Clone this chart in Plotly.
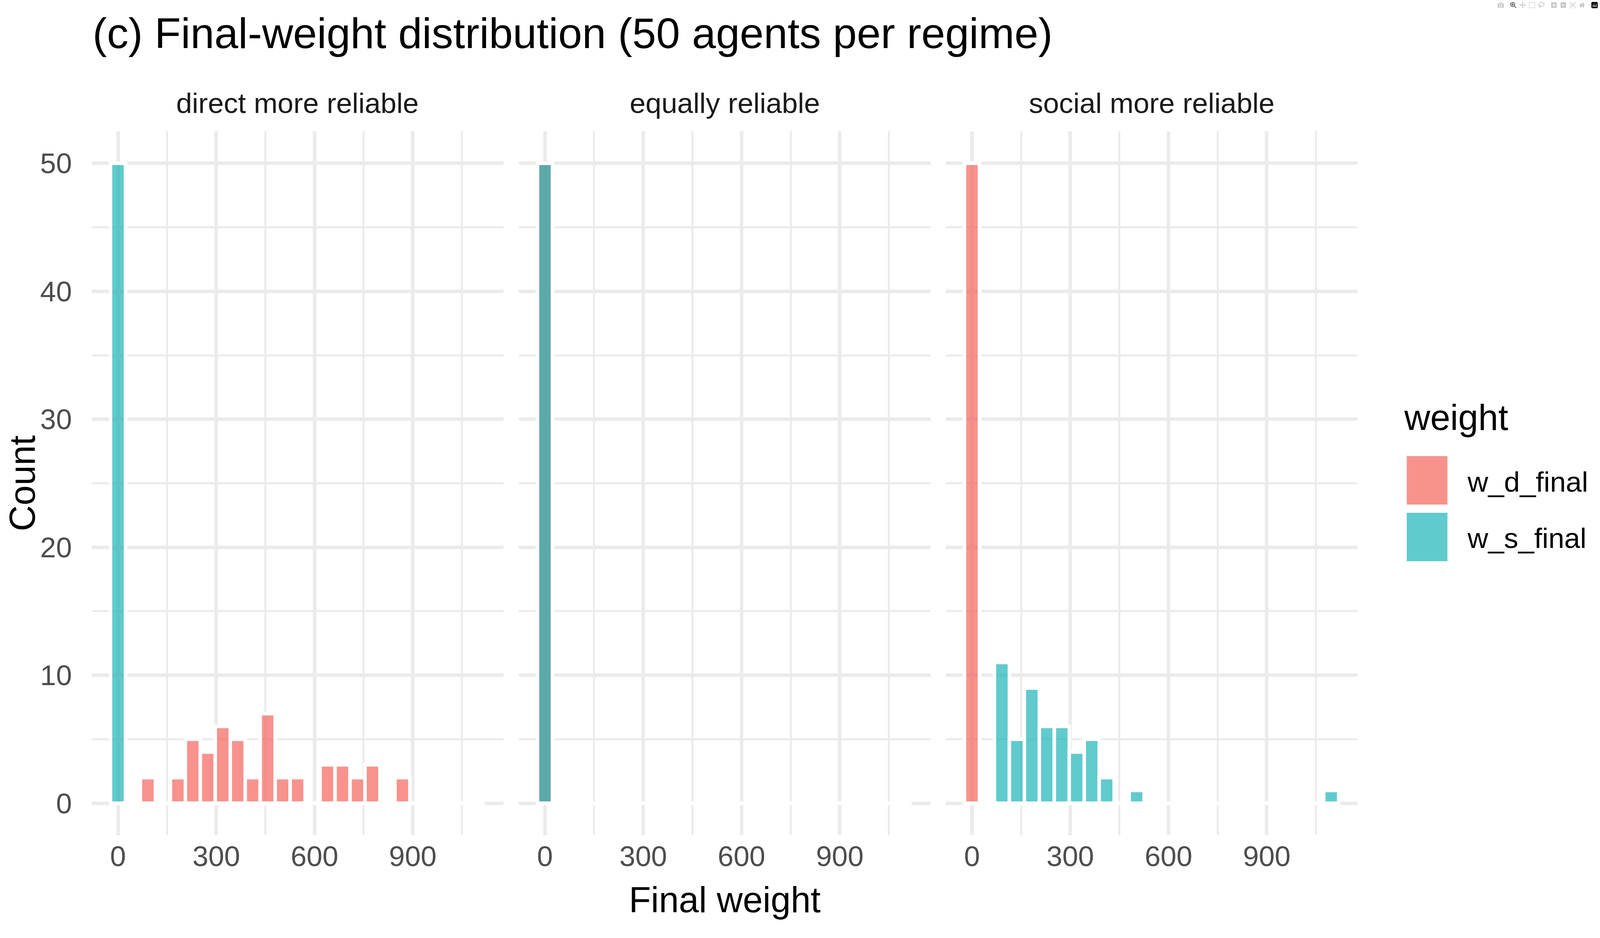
import plotly.graph_objects as go
from plotly.subplots import make_subplots

# ---------------- data ----------------
regimes = ["direct more reliable", "equally reliable", "social more reliable"]
weight_names = ["w_d_final", "w_s_final"]
bin_width = 45.7
bin_centers = [0.0, 45.7, 91.4, 137.1, 182.8, 228.5, 274.2, 319.9, 365.6, 411.3,
               457.0, 502.7, 548.4, 594.1, 639.8, 685.5, 731.2, 776.9, 822.6, 868.3,
               914.0, 959.7, 1005.4, 1051.1, 1096.8]

w_d_direct = [0, 0, 2, 0, 2, 5, 4, 6, 5, 2, 7, 2, 2, 0, 3, 3, 2, 3, 0, 2, 0, 0, 0, 0, 0]
w_s_direct = [50, 0, 0, 0, 0, 0, 0, 0, 0, 0, 0, 0, 0, 0, 0, 0, 0, 0, 0, 0, 0, 0, 0, 0, 0]
w_d_equal = [50, 0, 0, 0, 0, 0, 0, 0, 0, 0, 0, 0, 0, 0, 0, 0, 0, 0, 0, 0, 0, 0, 0, 0, 0]
w_s_equal = [50, 0, 0, 0, 0, 0, 0, 0, 0, 0, 0, 0, 0, 0, 0, 0, 0, 0, 0, 0, 0, 0, 0, 0, 0]
w_d_social = [50, 0, 0, 0, 0, 0, 0, 0, 0, 0, 0, 0, 0, 0, 0, 0, 0, 0, 0, 0, 0, 0, 0, 0, 0]
w_s_social = [0, 0, 11, 5, 9, 6, 6, 4, 5, 2, 0, 1, 0, 0, 0, 0, 0, 0, 0, 0, 0, 0, 0, 0, 1]

x_ticks = [0, 300, 600, 900]
y_ticks = [0, 10, 20, 30, 40, 50]

# ---------------- styling ----------------
W, H = 4800, 2400
ML, MR, MT, MB = 275, 728, 336, 263
PW = W - ML - MR
PH = H - MT - MB

FONT = "Liberation Sans, Arial, Helvetica, sans-serif"
fill_colors = {"w_d_final": "rgba(245,100,92,0.7)", "w_s_final": "rgba(28,180,184,0.7)"}
GRID = "#EBEBEB"


def px_x(p):
    return (p - ML) / PW


def px_y(p):
    return (H - MB - p) / PH


fig = make_subplots(rows=1, cols=3, shared_yaxes=True)

series = {
    regimes[0]: {"w_d_final": w_d_direct, "w_s_final": w_s_direct},
    regimes[1]: {"w_d_final": w_d_equal, "w_s_final": w_s_equal},
    regimes[2]: {"w_d_final": w_d_social, "w_s_final": w_s_social},
}

edge_lo = bin_centers[0] - bin_width / 2
edge_hi = bin_centers[-1] + bin_width / 2

for i, reg in enumerate(regimes):
    col = i + 1
    for wn in weight_names:
        fig.add_trace(
            go.Bar(
                x=bin_centers, y=series[reg][wn], width=bin_width, name=wn,
                marker=dict(color=fill_colors[wn], line=dict(color="white", width=9)),
                showlegend=False,
            ),
            row=1, col=col,
        )
    # white outline of the empty (zero-height) bins along the baseline
    fig.add_trace(
        go.Scatter(
            x=[edge_lo, edge_hi], y=[0, 0], mode="lines",
            line=dict(color="white", width=9),
            hoverinfo="skip", showlegend=False,
        ),
        row=1, col=col,
    )

fig.update_layout(barmode="overlay")

pw = (PW - 2 * 46) / 3
domains = []
for i in range(3):
    a = i * (pw + 46) / PW
    domains.append([a, min(1.0, a + pw / PW)])

x_range = [edge_lo - 0.05 * (edge_hi - edge_lo), edge_hi + 0.05 * (edge_hi - edge_lo)]
y_range = [-2.5, 52.5]

for i in range(3):
    key = "xaxis" if i == 0 else f"xaxis{i + 1}"
    fig.layout[key].update(
        domain=domains[i], range=x_range,
        tickmode="array", tickvals=x_ticks, ticktext=[str(v) for v in x_ticks],
        showgrid=True, gridcolor=GRID, gridwidth=9,
        minor=dict(tickmode="array", tickvals=[150, 450, 750, 1050],
                   showgrid=True, gridcolor=GRID, gridwidth=4.5),
        zeroline=False, showline=False, ticks="",
        tickfont=dict(family=FONT, size=73, color="#4D4D4D"),
        ticklabelstandoff=5,
    )
    ykey = "yaxis" if i == 0 else f"yaxis{i + 1}"
    fig.layout[ykey].update(
        range=y_range,
        tickmode="array", tickvals=y_ticks, ticktext=[str(v) for v in y_ticks],
        showgrid=True, gridcolor=GRID, gridwidth=9,
        minor=dict(tickmode="array", tickvals=[5, 15, 25, 35, 45],
                   showgrid=True, gridcolor=GRID, gridwidth=4.5),
        zeroline=False, showline=False, ticks="",
        tickfont=dict(family=FONT, size=73, color="#4D4D4D"),
        ticklabelstandoff=50,
    )

annotations = []
# 0: title
annotations.append(dict(
    text="(c) Final-weight distribution (50 agents per regime)",
    xref="paper", yref="paper", x=0, y=px_y(148), xanchor="left", yanchor="bottom",
    showarrow=False, font=dict(family=FONT, size=110, color="black")))
# 1-3: strip labels
for i, reg in enumerate(regimes):
    annotations.append(dict(
        text=reg, xref="paper", yref="paper",
        x=(domains[i][0] + domains[i][1]) / 2, y=px_y(306),
        xanchor="center", yanchor="bottom", showarrow=False,
        font=dict(family=FONT, size=73, color="#1A1A1A")))
# 4: x title
annotations.append(dict(
    text="Final weight", xref="paper", yref="paper", x=0.5, y=px_y(2355),
    xanchor="center", yanchor="bottom", showarrow=False,
    font=dict(family=FONT, size=92, color="black")))
# 5: y title
annotations.append(dict(
    text="Count", xref="paper", yref="paper", x=px_x(80), y=0.5,
    xanchor="center", yanchor="middle", textangle=-90, showarrow=False,
    font=dict(family=FONT, size=92, color="black")))
# 6: legend title
annotations.append(dict(
    text="weight", xref="paper", yref="paper", x=px_x(4209), y=px_y(1121),
    xanchor="left", yanchor="bottom", showarrow=False,
    font=dict(family=FONT, size=92, color="black")))
key_tops = [1167, 1312]
key_h = 124
shapes = []
for j, wn in enumerate(weight_names):
    top = key_tops[j]
    shapes.append(dict(
        type="rect", xref="paper", yref="paper",
        x0=px_x(4220), x1=px_x(4342), y0=px_y(top + key_h), y1=px_y(top),
        fillcolor=fill_colors[wn], line=dict(width=0)))
    annotations.append(dict(
        text=wn, xref="paper", yref="paper", x=px_x(4399), y=px_y(top + key_h / 2 + 3),
        xanchor="left", yanchor="middle", showarrow=False,
        font=dict(family=FONT, size=73, color="black")))

fig.update_layout(
    width=W, height=H,
    margin=dict(l=ML, r=MR, t=MT, b=MB, autoexpand=False),
    paper_bgcolor="white", plot_bgcolor="white",
    annotations=annotations, shapes=shapes,
    showlegend=False,
    font=dict(family=FONT),
)

# If the browser viewport is not exactly 4800x2400, stretch the figure's frame
# (size and margins) to fill it while keeping the designed proportions.
fit_script = """
(function () {
  var gd = document.getElementById('{plot_id}');
  document.documentElement.style.margin = '0';
  document.body.style.margin = '0';
  document.documentElement.style.overflow = 'hidden';
  document.body.style.overflow = 'hidden';
  var iw = window.innerWidth, ih = window.innerHeight;
  if (iw && ih && (iw !== 4800 || ih !== 2400)) {
    var sx = iw / 4800, sy = ih / 2400;
    gd.style.width = iw + 'px';
    gd.style.height = ih + 'px';
    var upd = {
      width: iw, height: ih,
      'margin.l': 275 * sx, 'margin.r': 728 * sx,
      'margin.t': 336 * sy, 'margin.b': 263 * sy
    };
    upd['annotations[5].x'] = (Math.min(80 * sx, 80) - 12 * (1 - sx) / 0.15 - 275 * sx) / (3797 * sx);
    Plotly.relayout(gd, upd);
  }
})();
"""

fig.write_html("out.html", post_script=fit_script)
